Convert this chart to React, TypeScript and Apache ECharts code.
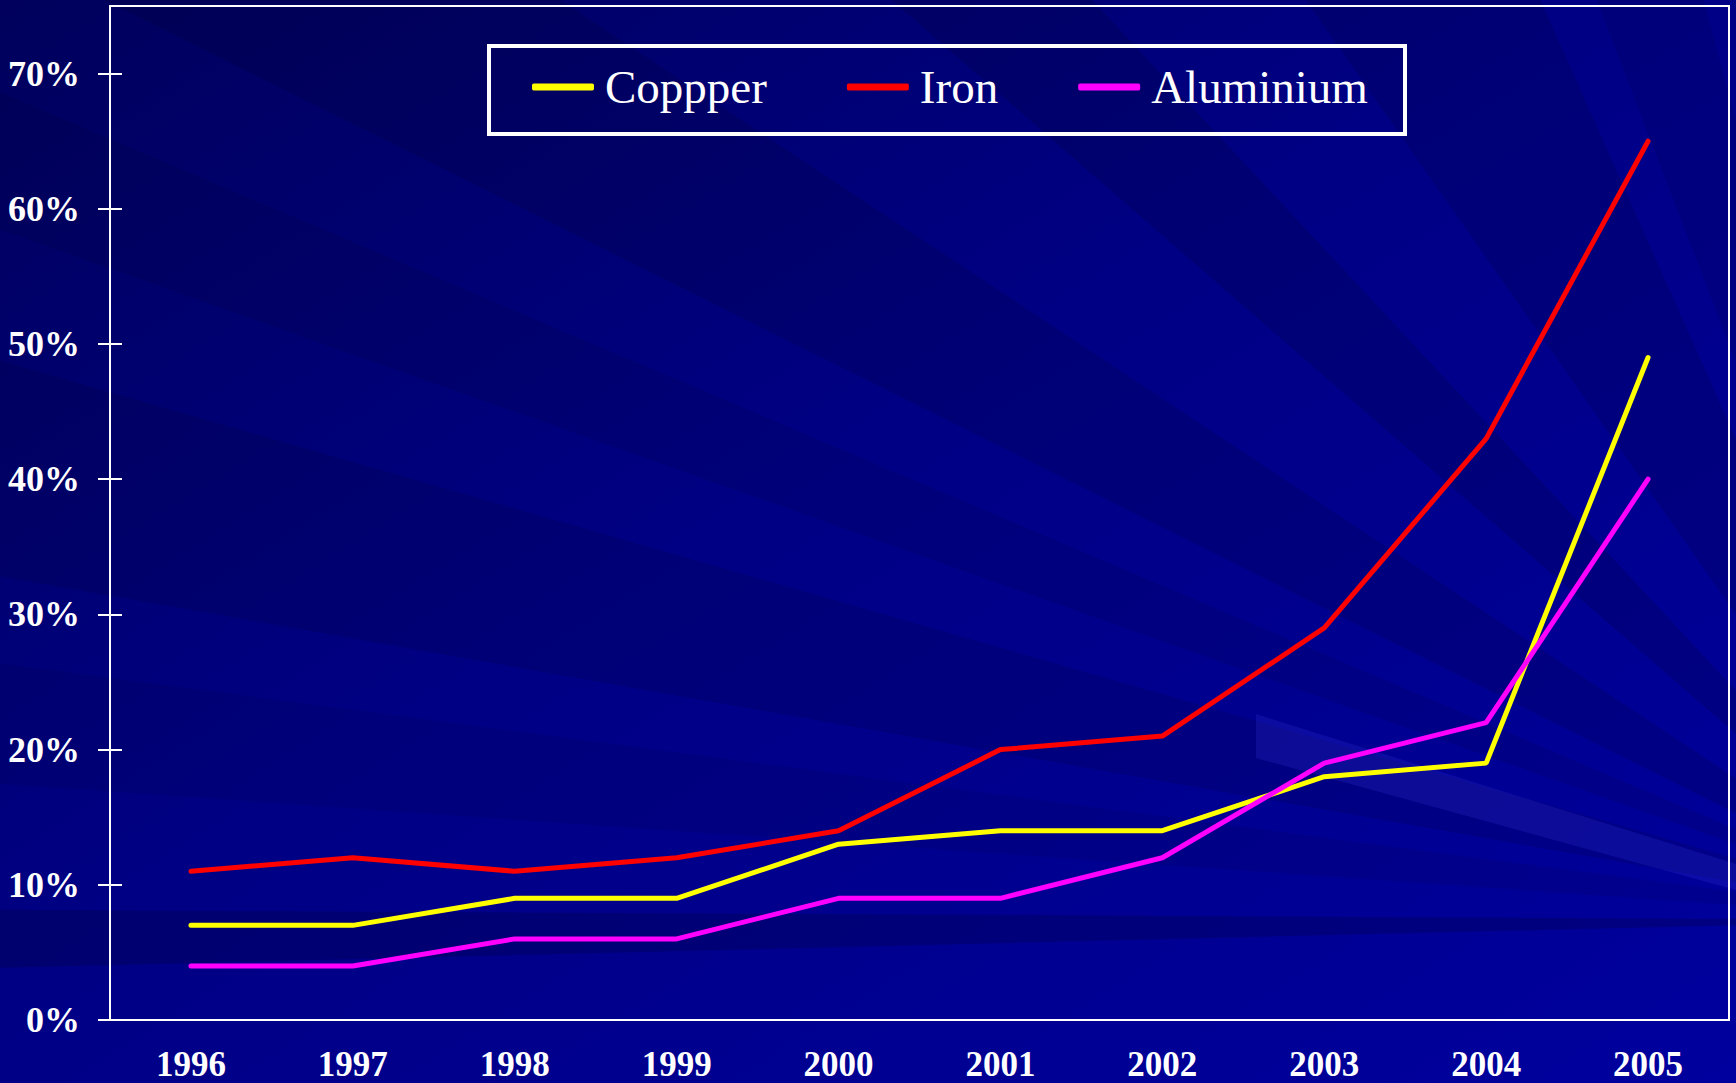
import React, { useEffect, useRef } from "react";
import * as echarts from "echarts";

const years = ["1996", "1997", "1998", "1999", "2000", "2001", "2002", "2003", "2004", "2005"];
const copper = [7, 7, 9, 9, 13, 14, 14, 18, 19, 49];
const iron = [11, 12, 11, 12, 14, 20, 21, 29, 43, 65];
const aluminium = [4, 4, 6, 6, 9, 9, 12, 19, 22, 40];
const yTicks = [0, 10, 20, 30, 40, 50, 60, 70];
const seriesNames = ["Coppper", "Iron", "Aluminium"];
const seriesColors = ["#ffff00", "#ff0000", "#ff00ff"];

const W = 1736;
const H = 1083;
const FONT = "'Liberation Serif', 'Times New Roman', serif";

// background streak wedges radiating from bottom-right (angles in degrees, screen coords)
const wedges: [number, number, number][] = [
  [178.6, 180.3, 0.2],
  [184, 187.5, 0.09],
  [190, 196, 0.13],
  [199.5, 203, 0.1],
  [206.5, 213.5, 0.14],
  [221, 227, 0.16],
  [235, 246, 0.14],
  [249, 255, 0.1],
];

function buildWedges() {
  const ox = 1950;
  const oy = 920;
  const R = 4000;
  return wedges.map(([a1, a2, op], i) => {
    const r1 = (a1 * Math.PI) / 180;
    const r2 = (a2 * Math.PI) / 180;
    return {
      type: "polygon",
      z: -10,
      silent: true,
      shape: {
        points: [
          [ox, oy],
          [ox + R * Math.cos(r1), oy + R * Math.sin(r1)],
          [ox + R * Math.cos(r2), oy + R * Math.sin(r2)],
        ],
      },
      style: { fill: `rgba(0,0,30,${op})` },
      id: "w" + i,
    };
  });
}

export default function App() {
  const ref = useRef<HTMLDivElement>(null);

  useEffect(() => {
    document.body.style.margin = "0";
    if (!ref.current) return;
    const chart = echarts.init(ref.current, undefined, { renderer: "svg" });
    const mk = (name: string, data: number[], color: string) => ({
      name,
      type: "line",
      data,
      symbol: "none",
      lineStyle: { width: 5, color, cap: "round" },
      itemStyle: { color },
      z: 3,
    });
    chart.setOption({
      animation: false,
      backgroundColor: {
        type: "linear",
        x: 0,
        y: 0,
        x2: 1,
        y2: 1,
        colorStops: [
          { offset: 0, color: "#00005c" },
          { offset: 0.45, color: "#000084" },
          { offset: 1, color: "#00009e" },
        ],
      },
      graphic: [
        ...buildWedges(),
        {
          type: "polygon",
          z: -9,
          silent: true,
          shape: {
            points: [
              [1256, 714],
              [1256, 758],
              [1736, 890],
              [1736, 864],
            ],
          },
          style: { fill: "rgba(60,60,230,0.2)" },
        },
        {
          type: "rect",
          z: 1,
          silent: true,
          shape: { x: 489, y: 46, width: 916, height: 88 },
          style: { fill: "rgba(0,0,0,0)", stroke: "#ffffff", lineWidth: 4 },
        },
      ],
      legend: {
        data: seriesNames,
        left: 532,
        top: 61,
        padding: 0,
        itemGap: 80,
        icon: "roundRect",
        itemWidth: 62,
        itemHeight: 7,
        textStyle: {
          color: "#ffffff",
          fontFamily: FONT,
          fontSize: 47,
          lineHeight: 52,
          padding: [0, 0, 0, 6],
        },
      },
      grid: {
        left: 110,
        right: 7,
        top: 6,
        bottom: 63,
        show: true,
        borderColor: "#ffffff",
        borderWidth: 2,
        backgroundColor: "transparent",
      },
      xAxis: {
        type: "category",
        data: years,
        boundaryGap: true,
        axisLine: { lineStyle: { color: "#ffffff", width: 2 } },
        axisTick: { show: false },
        axisLabel: {
          color: "#ffffff",
          fontFamily: FONT,
          fontWeight: "bold",
          fontSize: 35,
          margin: 27,
        },
        splitLine: { show: false },
      },
      yAxis: [
        {
          type: "value",
          min: 0,
          max: 75,
          interval: 5,
          axisLine: { show: true, lineStyle: { color: "#ffffff", width: 2 } },
          axisTick: {
            show: true,
            length: 12,
            lineStyle: { color: "#ffffff", width: 2 },
            customValues: yTicks,
          },
          axisLabel: {
            color: "#ffffff",
            fontFamily: FONT,
            fontWeight: "bold",
            fontSize: 36,
            margin: 30,
            customValues: yTicks,
            formatter: (v: number) => v + "%",
          },
          splitLine: { show: false },
        },
        {
          type: "value",
          min: 0,
          max: 75,
          interval: 5,
          position: "left",
          axisLine: { show: false },
          axisTick: {
            show: true,
            inside: true,
            length: 12,
            lineStyle: { color: "#ffffff", width: 2 },
            customValues: yTicks,
          },
          axisLabel: { show: false },
          splitLine: { show: false },
        },
      ],
      series: [
        mk(seriesNames[0], copper, seriesColors[0]),
        mk(seriesNames[1], iron, seriesColors[1]),
        mk(seriesNames[2], aluminium, seriesColors[2]),
      ],
    });
    return () => chart.dispose();
  }, []);

  return <div ref={ref} style={{ width: W, height: H }} />;
}
